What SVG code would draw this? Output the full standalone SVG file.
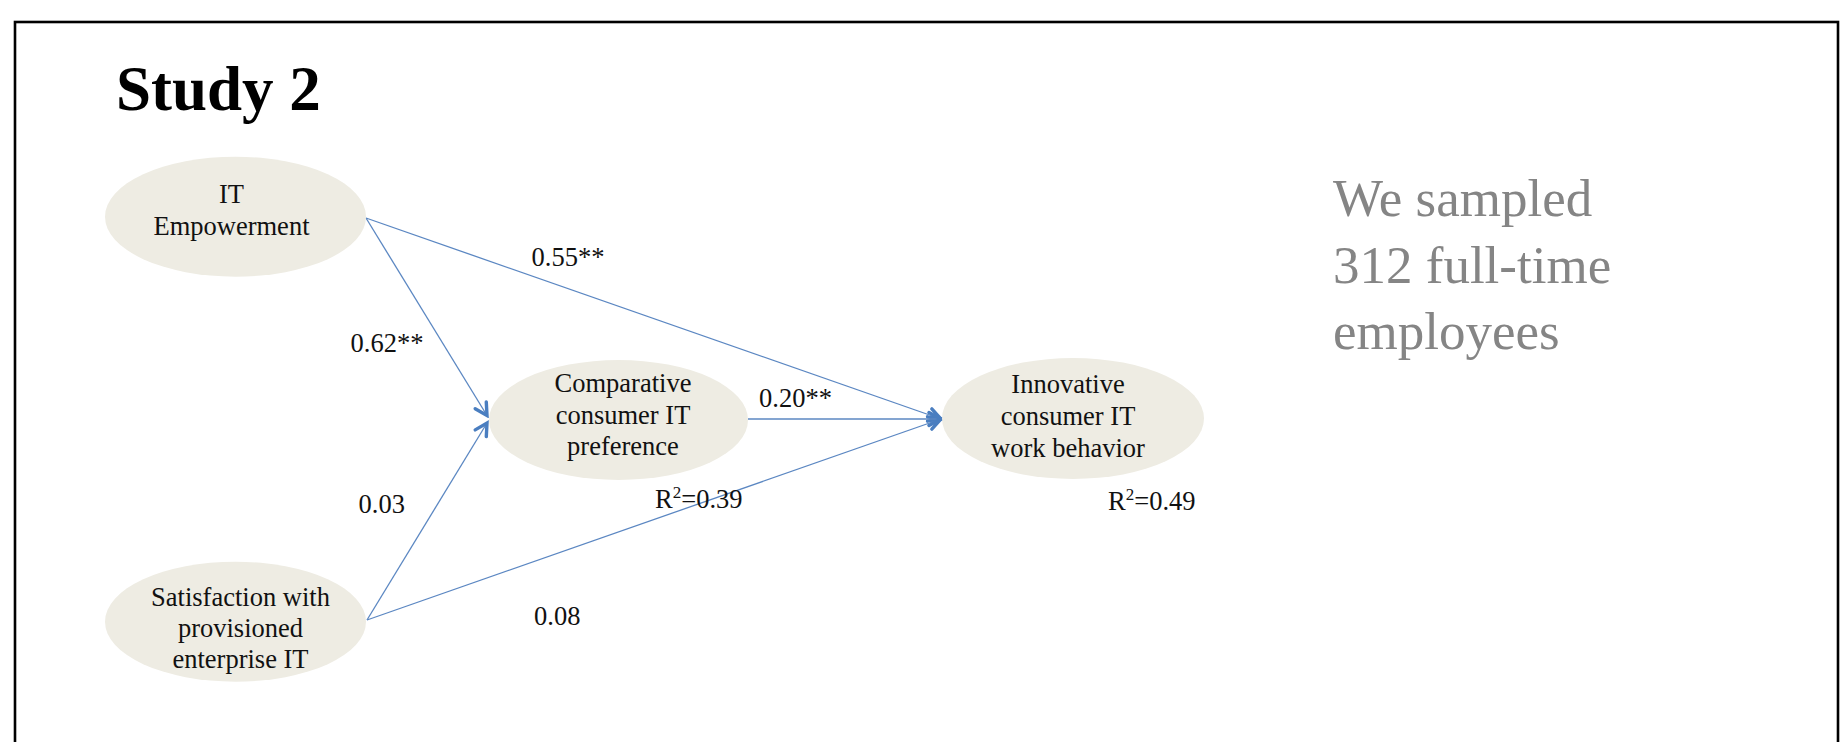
<svg xmlns="http://www.w3.org/2000/svg" width="1842" height="742" viewBox="0 0 1842 742">
  <style>
    .node ellipse { fill: #eeece3; stroke: none; }
    .lbl { font-family: "Liberation Serif", "Times New Roman", serif; font-size: 26.5px; fill: #111111; }
    .ctr { text-anchor: middle; }
    .edge { stroke: #5b87c2; stroke-width: 1.3; fill: none; }
    .title { font-family: "Liberation Serif", "Times New Roman", serif; font-size: 63px; font-weight: bold; fill: #000000; }
    .note { font-family: "Liberation Serif", "Times New Roman", serif; font-size: 53px; fill: #858585; }
  </style>
  <defs>
    <marker id="arrow" markerUnits="userSpaceOnUse" viewBox="0 0 18 18" refX="15" refY="9" markerWidth="18" markerHeight="18" orient="auto">
      <path d="M3,2.5 L15,9 L3,15.5" fill="none" stroke="#4a7ec0" stroke-width="3.4" stroke-linejoin="miter" stroke-linecap="round"/>
    </marker>
  </defs>

  <rect x="0" y="0" width="1842" height="742" fill="#ffffff"/>
  <rect id="frame" x="15" y="22" width="1823" height="740" fill="none" stroke="#000000" stroke-width="2.6"/>

  <text class="title" x="116" y="110">Study 2</text>

  <g id="connectors">
    <line class="edge" x1="366" y1="218" x2="941" y2="419" marker-end="url(#arrow)"/>
    <line class="edge" x1="366" y1="218" x2="487" y2="415.5" marker-end="url(#arrow)"/>
    <line class="edge" x1="367" y1="620" x2="487" y2="423" marker-end="url(#arrow)"/>
    <line class="edge" x1="367" y1="620" x2="941" y2="419" marker-end="url(#arrow)"/>
    <line class="edge" x1="748" y1="419" x2="941" y2="419" marker-end="url(#arrow)"/>
  </g>

  <g id="node-it-empowerment" class="node">
    <ellipse cx="235.5" cy="216.7" rx="130.5" ry="60"/>
    <text class="lbl ctr" x="231.5" y="203.3">IT</text>
    <text class="lbl ctr" x="231.5" y="235">Empowerment</text>
  </g>

  <g id="node-satisfaction" class="node">
    <ellipse cx="235.5" cy="621.7" rx="130.5" ry="60"/>
    <text class="lbl ctr" x="240.5" y="606">Satisfaction with</text>
    <text class="lbl ctr" x="240.5" y="637">provisioned</text>
    <text class="lbl ctr" x="240.5" y="668">enterprise IT</text>
  </g>

  <g id="node-comparative" class="node">
    <ellipse cx="618.5" cy="420" rx="129.5" ry="60"/>
    <text class="lbl ctr" x="623" y="392">Comparative</text>
    <text class="lbl ctr" x="623" y="423.5">consumer IT</text>
    <text class="lbl ctr" x="623" y="455">preference</text>
  </g>

  <g id="node-innovative" class="node">
    <ellipse cx="1073" cy="418.5" rx="131" ry="60.5"/>
    <text class="lbl ctr" x="1068" y="393">Innovative</text>
    <text class="lbl ctr" x="1068" y="425">consumer IT</text>
    <text class="lbl ctr" x="1068" y="457">work behavior</text>
  </g>

  <g id="edge-labels">
    <text class="lbl" x="531.5" y="266">0.55**</text>
    <text class="lbl" x="350.5" y="351.7">0.62**</text>
    <text class="lbl" x="759" y="406.7">0.20**</text>
    <text class="lbl" x="358.5" y="513.3">0.03</text>
    <text class="lbl" x="534" y="625">0.08</text>
    <text class="lbl" x="655" y="508">R<tspan dy="-10" font-size="17">2</tspan><tspan dy="10">=0.39</tspan></text>
    <text class="lbl" x="1108" y="510">R<tspan dy="-10" font-size="17">2</tspan><tspan dy="10">=0.49</tspan></text>
  </g>

  <g id="note">
    <text class="note" x="1333" y="216">We sampled</text>
    <text class="note" x="1333" y="283">312 full-time</text>
    <text class="note" x="1333" y="349">employees</text>
  </g>
</svg>
